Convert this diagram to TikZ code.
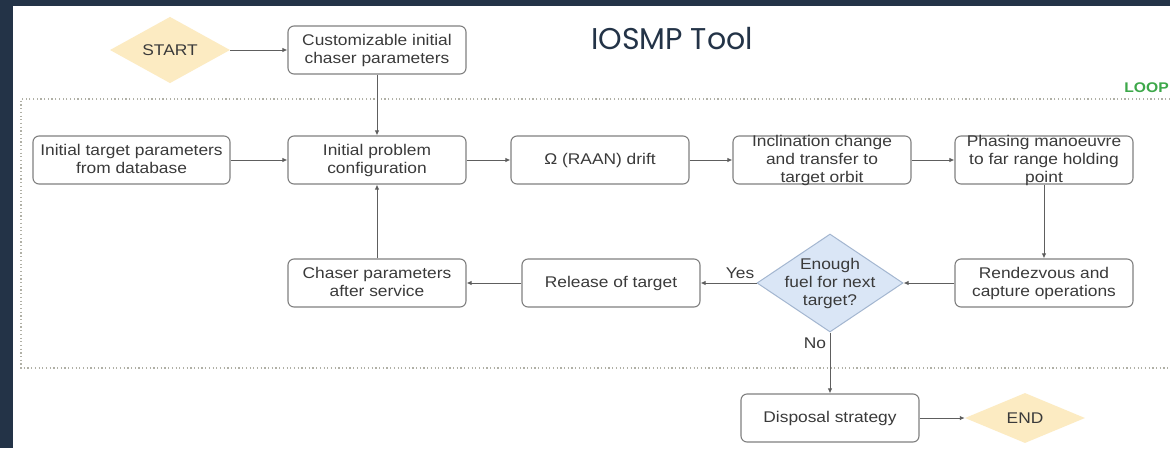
\documentclass[tikz,border=0pt]{standalone}
\usepackage{fontspec}
\setmainfont{Liberation Sans}[FakeStretch=1.12]
\newfontfamily\titlefont{Poppins}
\usepackage{tikz}
\usetikzlibrary{shapes.geometric,arrows.meta,positioning,calc}

\definecolor{navy}{HTML}{233347}
\definecolor{boxgray}{HTML}{808080}
\definecolor{linegray}{HTML}{5E5E5E}
\definecolor{txtgray}{HTML}{3A3A3A}
\definecolor{termfill}{HTML}{FCEBC2}
\definecolor{askfill}{HTML}{DAE6F6}
\definecolor{askline}{HTML}{A3B6D0}
\definecolor{loopgreen}{HTML}{3DA84A}
\definecolor{dotgray}{HTML}{B0B0A6}

\newcommand{\tightlines}[1]{\smash{\raisebox{-.3em}{\begin{tabular}{@{}c@{}}#1\end{tabular}}}}

\begin{document}
\begin{tikzpicture}[x=1pt, y=-1pt,
                    box/.style={draw=boxgray, line width=1.1pt, rounded corners=6pt, fill=white,
                                minimum width=178pt, minimum height=48pt, inner sep=0pt,
                                font=\fontsize{15.5}{17.6}\selectfont, text=txtgray, align=center},
                    term/.style={diamond, fill=termfill, minimum width=120pt, minimum height=50pt,
                                 inner sep=0pt, font=\fontsize{15.5}{17.6}\selectfont, text=txtgray},
                    ask/.style={diamond, draw=askline, line width=1pt, fill=askfill,
                                minimum width=146pt, minimum height=98pt, inner sep=0pt,
                                font=\fontsize{15.5}{17.6}\selectfont, text=txtgray},
                    tag/.style={font=\fontsize{15.5}{17.6}\selectfont, text=txtgray, inner sep=0pt},
                    arr/.style={draw=linegray, line width=1pt, -{Latex[length=5pt,width=4.5pt]}},
                    loopline/.style={draw=dotgray, line width=1.3pt, dash pattern=on 1.2pt off 2.5pt}]
                    \useasboundingbox (0,0) rectangle (1170,448);
                    \fill[white] (0,0) rectangle (1170,448);
                    \fill[navy] (0,0) rectangle (13,448);
                    \fill[navy] (0,0) rectangle (1170,6);

                    \draw[loopline] (1170,99) -- (21,99) -- (21,368) -- (1170,368);
                    \node[anchor=east, font=\bfseries\fontsize{14}{16}\selectfont, text=loopgreen, inner sep=0pt] (loop) at (1169,88) {LOOP};
                    \node[font=\titlefont\fontsize{30}{36}\selectfont, text=navy, inner sep=0pt] (title) at (672,39) {IOSMP Tool};

                    \node[term] (start) at (170,50) {START};
                    \node[box] (custom) at (377,50) {\tightlines{Customizable initial\\chaser parameters}};
                    \node[box, minimum width=197pt] (target) at (131.5,160) {\tightlines{Initial target parameters\\from database}};
                    \node[box] (config) at (377,160) {\tightlines{Initial problem\\configuration}};
                    \node[box] (raan) at (600,160) {Ω (RAAN) drift};
                    \node[box] (incl) at (822,160) {\tightlines{Inclination change\\and transfer to\\target orbit}};
                    \node[box] (phase) at (1044,160) {\tightlines{Phasing manoeuvre\\to far range holding\\point}};
                    \node[box] (rdv) at (1044,283) {\tightlines{Rendezvous and\\capture operations}};
                    \node[ask] (fuel) at (830,283) {\tightlines{Enough\\fuel for next\\target?}};
                    \node[box] (release) at (611,283) {Release of target};
                    \node[box] (after) at (377,283) {\tightlines{Chaser parameters\\after service}};
                    \node[box] (disposal) at (830,418) {Disposal strategy};
                    \node[term] (end) at (1025,418) {END};
                    \node[tag] (yes) at (740,273) {Yes};
                    \node[tag] (no) at (815,343) {No};

                    \draw[arr] (start) -- (custom);
                    \draw[arr] (custom) -- (config);
                    \draw[arr] (target) -- (config);
                    \draw[arr] (config) -- (raan);
                    \draw[arr] (raan) -- (incl);
                    \draw[arr] (incl) -- (phase);
                    \draw[arr] (phase) -- (rdv);
                    \draw[arr] (rdv) -- (fuel);
                    \draw[arr] (fuel) -- (release);
                    \draw[arr] (release) -- (after);
                    \draw[arr] (after) -- (config);
                    \draw[arr] (fuel) -- (disposal);
                    \draw[arr] (disposal) -- (end);
                \end{tikzpicture}
\end{document}
